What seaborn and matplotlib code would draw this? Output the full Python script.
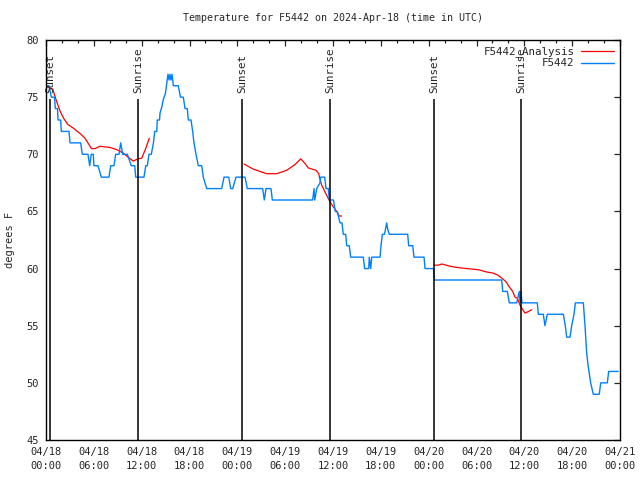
import pandas as pd
import numpy as np
import matplotlib
matplotlib.use('Agg')
import matplotlib.pyplot as plt
import matplotlib.dates as mdates
import seaborn as sns

# hours since 2024-04-18 00:00 UTC, temperature in F
obs_hours = [0.09, 0.38, 0.66, 1.07, 1.17, 1.44, 1.51, 1.84, 1.92, 2.89, 3.01, 4.35, 4.55, 5.27,
             5.48, 5.68, 5.93, 6.02, 6.52, 6.94, 7.90, 8.12, 8.53, 8.74, 9.16, 9.37, 9.62, 10.2,
             10.7, 11.13, 11.25, 12.29, 12.51, 12.71, 12.92, 13.21, 13.48, 13.63, 13.89, 13.96,
             14.24, 14.30, 14.55, 14.71, 14.97, 15.14, 15.30, 15.43, 15.55, 15.68, 15.81, 15.97,
             16.59, 16.87, 17.22, 17.44, 17.72, 17.85, 18.19, 18.40, 18.56, 18.82, 19.10, 19.53,
             19.73, 19.94, 20.16, 22.04, 22.33, 22.92, 23.17, 23.42, 23.83, 24.96, 25.25, 27.18,
             27.38, 27.60, 28.22, 28.39, 33.45, 33.62, 33.71, 33.96, 34.37, 34.46, 34.96, 35.12,
             35.41, 35.54, 36.06, 36.29, 36.54, 36.88, 37.13, 37.29, 37.59, 37.72, 38.04, 38.22,
             39.80, 39.97, 40.48, 40.55, 40.73, 40.86, 41.90, 42.02, 42.19, 42.46, 42.74, 42.84,
             43.06, 45.37, 45.49, 46.00, 46.16, 47.42, 47.54, 48.61, 48.73, 57.16, 57.29, 57.87,
             58.11, 59.04, 59.37, 59.46, 59.58, 59.71, 61.63, 61.75, 62.38, 62.59, 62.88, 64.89,
             65.14, 65.31, 65.73, 65.94, 66.23, 66.40, 67.40, 67.61, 67.82, 68.02, 68.32, 68.65,
             69.40, 69.58, 70.41, 70.58, 71.79]
obs_temp = [76, 76, 75, 75, 74, 74, 73, 73, 72, 72, 71, 71, 70, 70,
            69, 70, 70, 69, 69, 68, 68, 69, 69, 70, 70, 71, 70, 70,
            69, 69, 68, 68, 69, 69, 70, 70, 71, 72, 72, 73,
            73, 73.6, 74.2, 74.8, 75.3, 76.2, 77, 76.5, 77, 76.5, 77, 76,
            76, 75, 75, 74, 74, 73, 73, 72, 71, 70, 69, 69,
            68, 67.5, 67, 67, 68, 68, 67, 67, 68, 68, 67, 67,
            66, 67, 67, 66, 66, 67, 66, 67, 67.5, 68, 68, 67,
            67, 66, 66, 65, 65, 64, 64, 63, 63, 62, 62, 61,
            61, 60, 60, 61, 60, 61, 61, 62, 63, 63, 64, 63.5,
            63, 63, 62, 62, 61, 61, 60, 60, 59, 59, 58, 58,
            57, 57, 58, 57, 58, 57, 57, 56, 56, 55, 56, 56,
            55, 54, 54, 55, 56, 57, 57, 55, 52.6, 51.4, 50, 49,
            49, 50, 50, 51, 51]

# analysis, three separate runs
ana1_hours = [0.15, 0.85, 1.25, 1.75, 2.25, 2.75, 3.4, 4.3, 4.9, 5.7, 6.15, 6.77, 8.0, 8.9,
              9.7, 10.2, 10.95, 11.5, 12.0, 12.45, 12.96]
ana1_temp = [75.9, 75.7, 74.8, 73.8, 73.1, 72.6, 72.3, 71.8, 71.4, 70.5, 70.5, 70.7, 70.6, 70.4,
             70.1, 69.8, 69.4, 69.6, 69.65, 70.4, 71.4]
ana2_hours = [24.84, 26.0, 26.84, 27.68, 28.94, 30.19, 31.23, 31.95, 32.49, 32.9, 33.87, 34.21,
              34.37, 34.58, 35.0, 35.29, 35.62, 36.04, 36.46, 36.79, 37.09]
ana2_temp = [69.15, 68.7, 68.5, 68.3, 68.3, 68.6, 69.1, 69.6, 69.2, 68.8, 68.6, 68.3,
             67.8, 67.3, 66.7, 66.3, 65.85, 65.4, 65.0, 64.6, 64.6]
ana3_hours = [48.67, 49.21, 49.64, 50.18, 50.68, 51.52, 52.77, 54.23, 55.28, 56.11, 56.74, 57.29,
              57.7, 58.11, 58.54, 58.83, 59.12, 59.46, 59.8, 60.09, 60.38, 60.93]
ana3_temp = [60.3, 60.3, 60.4, 60.3, 60.2, 60.1, 60.0, 59.9, 59.7, 59.6, 59.4, 59.1,
             58.85, 58.4, 58.0, 57.5, 57.4, 56.8, 56.4, 56.1, 56.2, 56.4]

sun_hours = [0.54, 11.58, 24.63, 35.67, 48.72, 59.64]
sun_labels = ['Sunset', 'Sunrise', 'Sunset', 'Sunrise', 'Sunset', 'Sunrise']

start = pd.Timestamp('2024-04-18 00:00')


def to_time(h):
    return start + pd.to_timedelta(h, unit='h')


sns.set_style('white')
plt.rcParams['font.family'] = ['DejaVu Sans Mono']
plt.rcParams['font.size'] = 7

fig = plt.figure(figsize=(6.4, 4.8), dpi=100)
ax = fig.add_axes([46 / 640, 40 / 480, 574 / 640, 400 / 480])

obs = pd.DataFrame({'time': to_time(obs_hours), 'temp': obs_temp})
ana = [pd.DataFrame({'time': to_time(h), 'temp': t})
       for h, t in [(ana1_hours, ana1_temp), (ana2_hours, ana2_temp), (ana3_hours, ana3_temp)]]

for i, d in enumerate(ana):
    sns.lineplot(data=d, x='time', y='temp', ax=ax, color='#ff0000', lw=0.9,
                 label='F5442_Analysis' if i == 0 else None, estimator=None, sort=False)
sns.lineplot(data=obs, x='time', y='temp', ax=ax, color='#0080ff', lw=1.0,
             label='F5442', estimator=None, sort=False)

# sunrise / sunset markers
for h, lab in zip(sun_hours, sun_labels):
    t = to_time(h)
    ax.vlines(t, 45, 74.85, color='black', lw=1.1)
    ax.text(t, 75.4, lab, rotation=90, ha='center', va='bottom', fontsize=7.8)

ax.set_xlim(start, to_time(72))
ax.set_ylim(45, 80)
ax.set_yticks(np.arange(45, 81, 5))
ax.xaxis.set_major_locator(mdates.HourLocator(byhour=[0, 6, 12, 18]))
ax.xaxis.set_minor_locator(mdates.HourLocator(byhour=range(0, 24, 2)))
ax.xaxis.set_major_formatter(mdates.DateFormatter('%m/%d\n%H:%M'))
ax.tick_params(which='both', direction='in', top=True, right=True, labelsize=7.5, pad=5)
ax.tick_params(which='major', length=4.5, width=0.9)
ax.tick_params(which='minor', length=2.5, width=0.9)
for lbl in ax.get_xticklabels():
    lbl.set_linespacing(1.5)
for s in ax.spines.values():
    s.set_color('black')
    s.set_linewidth(1.0)

ax.set_xlabel('')
ax.set_ylabel('degrees F', fontsize=7.5, labelpad=8)
ax.set_title('Temperature for F5442 on 2024-Apr-18 (time in UTC)', fontsize=7.2, pad=14)

leg = ax.legend(loc='upper right', frameon=False, markerfirst=False, fontsize=7.8,
                handlelength=3.0, borderaxespad=0.2, labelspacing=0.1, handletextpad=0.6)

fig.savefig('out.png', dpi=100)
